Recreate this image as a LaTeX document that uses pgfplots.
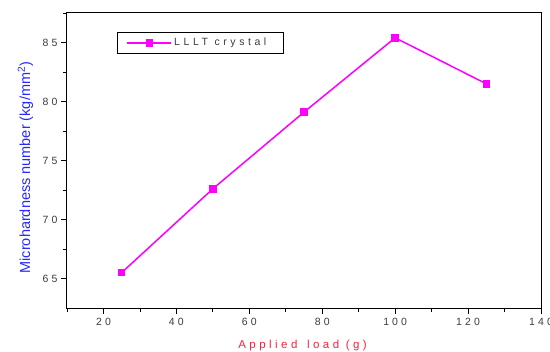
\documentclass[border=0pt]{standalone}
\usepackage{fontspec}
\setmainfont{Liberation Sans}
\newfontfamily\spaced[LetterSpace=30]{Liberation Sans}
\newfontfamily\legspaced[LetterSpace=34]{Liberation Sans}
\usepackage{pgfplots}
\pgfplotsset{compat=1.18}
\definecolor{lineMag}{RGB}{255,0,255}
\definecolor{labBlue}{RGB}{40,40,255}
\definecolor{labRed}{RGB}{255,30,60}
\definecolor{tickText}{RGB}{60,60,60}

\begin{document}
\begin{tikzpicture}
\begin{axis}[
  scale only axis,
  width=474pt, height=295pt,
  xmin=10, xmax=140, ymin=62.5, ymax=87.5,
  xtick={20,40,...,140}, ytick={65,70,...,85},
  minor xtick={10,30,...,130},
  minor ytick={67.5,72.5,77.5,82.5,87.5},
  tick align=outside,
  xtick pos=left, ytick pos=left,
  major tick length=6pt, minor tick length=4pt,
  axis line style={line width=1pt},
  every tick/.style={black, line width=0.8pt},
  /pgf/number format/assume math mode=true,
  tick label style={font=\spaced\fontsize{10.5}{12}\selectfont, text=tickText},
  xticklabel style={yshift=-1pt},
  xlabel={Applied\hspace{3pt} load (g)},
  xlabel style={font=\spaced\fontsize{11.5}{14}\selectfont, text=labRed,
    at={(axis description cs:0.497,-0.1356)}, anchor=base},
  ylabel={Microhardness number (kg/mm\textsuperscript{2})},
  ylabel style={font=\fontsize{14.5}{16}\selectfont, text=labBlue,
    at={(axis description cs:-0.0875,0.476)}, anchor=center},
  legend style={at={(axis cs:23.8,85.9)}, anchor=north west,
    draw=black, line width=0.8pt, inner xsep=9pt, inner ysep=4pt,
    font=\legspaced\fontsize{10.5}{12}\selectfont, text=tickText,
    cells={anchor=west}},
  legend image code/.code={%
    \draw[mark repeat=2, mark phase=2]
      plot coordinates {(0pt,0pt) (22pt,0pt) (44pt,0pt)};},
]
\addplot[lineMag, line width=1.5pt, mark=square*, mark size=3.3pt,
  mark options={solid, fill=lineMag, line width=0pt}]
  coordinates {(25,65.5) (50,72.6) (75,79.1) (100,85.4) (125,81.5)};
\addlegendentry{LLLT crystal\kern6pt}
\coordinate (bl) at (rel axis cs:0,0);
\coordinate (tr) at (rel axis cs:1,1);
\end{axis}
\pgfresetboundingbox
\path[use as bounding box] ([shift={(-67pt,-43pt)}]bl) rectangle ([shift={(9pt,13pt)}]tr);
\end{tikzpicture}
\end{document}
